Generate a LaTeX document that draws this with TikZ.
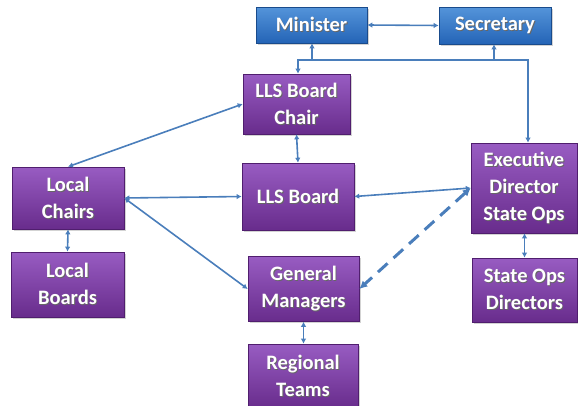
\documentclass[tikz,border=0pt]{standalone}
\usepackage{fontspec}
\setmainfont{Carlito}
\usetikzlibrary{arrows.meta,shadows}

\definecolor{purpTop}{RGB}{152,92,194}
\definecolor{purpBot}{RGB}{104,44,140}
\definecolor{purpEdge}{RGB}{80,30,110}
\definecolor{blueTop}{RGB}{84,148,218}
\definecolor{blueBot}{RGB}{36,100,182}
\definecolor{blueEdge}{RGB}{25,75,140}
\definecolor{linkBlue}{RGB}{74,126,187}

% white label with a faint dark shadow under each line
\newcommand{\shl}[1]{\rlap{\kern0.9pt\raisebox{-0.9pt}{\textcolor{black!60}{#1}}}#1}

\tikzset{
  box/.style={rectangle, align=center, text=white, inner sep=0pt,
    font=\fontsize{20.5}{27}\selectfont\bfseries,
    drop shadow={shadow xshift=1.5pt, shadow yshift=-1.5pt, opacity=0.35},
    line width=0.6pt},
  purplebox/.style={box, draw=purpEdge, top color=purpTop, bottom color=purpBot},
  bluebox/.style={box, draw=blueEdge, top color=blueTop, bottom color=blueBot},
  conn/.style={draw=linkBlue, line width=1.6pt,
    arrows={-}, >={Latex[length=5pt,width=5.5pt]}},
  dashconn/.style={draw=linkBlue, line width=3pt, dash pattern=on 13pt off 8pt,
    >={Latex[length=8pt,width=8pt]}}
}

\begin{document}
\begin{tikzpicture}[x=1pt,y=-1pt]
\useasboundingbox (0,0) rectangle (578,405);

% top level
\node[bluebox, minimum width=111pt, minimum height=36pt] (min) at (311.5,25) {\shl{Minister}};
\node[bluebox, minimum width=112pt, minimum height=37pt] (sec) at (495,25.5) {\shl{Secretary}};

% board level
\node[purplebox, minimum width=107pt, minimum height=60pt] (chair) at (296.5,104) {\shl{LLS Board}\\\shl{Chair}};
\node[purplebox, minimum width=112pt, minimum height=67pt] (board) at (298,196.5) {\shl{LLS Board}};
\node[purplebox, minimum width=112pt, minimum height=62pt] (lchairs) at (68,198) {\shl{Local}\\\shl{Chairs}};
\node[purplebox, minimum width=113pt, minimum height=65pt] (lboards) at (67.5,284.5) {\shl{Local}\\\shl{Boards}};
\node[purplebox, minimum width=106pt, minimum height=90pt] (exec) at (524,188) {\shl{Executive}\\\shl{Director}\\\shl{State Ops}};

% operations level
\node[purplebox, minimum width=111pt, minimum height=65pt] (gm) at (303.5,289) {\shl{General}\\\shl{Managers}};
\node[purplebox, minimum width=110pt, minimum height=64pt] (reg) at (303,376) {\shl{Regional}\\\shl{Teams}};
\node[purplebox, minimum width=105pt, minimum height=64pt] (sod) at (524.5,290) {\shl{State Ops}\\\shl{Directors}};

% bus joining the top level to the board chair and executive director
\coordinate (busL) at (298,60);
\coordinate (busR) at (528,60);
\coordinate (busM) at (312,60);
\coordinate (busS) at (494,60);

\draw[conn,<->] (min.east) -- (sec.west);
\draw[conn,<->] (chair.north -| busL) -- (busL) -- (busR) -- (exec.north -| busR);
\draw[conn,->] (busM) -- (busM |- min.south);
\draw[conn,->] (busS) -- (busS |- sec.south);

% vertical links
\draw[conn,<->] (chair.south) -- (board.north);
\draw[conn,<->] (lchairs.south) -- (lboards.north);
\draw[conn,<->] (gm.south) -- (gm.south |- reg.north);
\draw[conn,<->] (exec.south -| sod.north) -- (sod.north);

% cross links
\draw[conn,<->] (chair.west) -- (lchairs.north);
\draw[conn,<->] (lchairs.east) -- (board.west);
\draw[conn,<->] (lchairs.east) -- (gm.west);
\draw[conn,<->] (board.east) -- (exec.west);
\draw[dashconn,<->] (exec.west) -- (gm.east);
\end{tikzpicture}
\end{document}
